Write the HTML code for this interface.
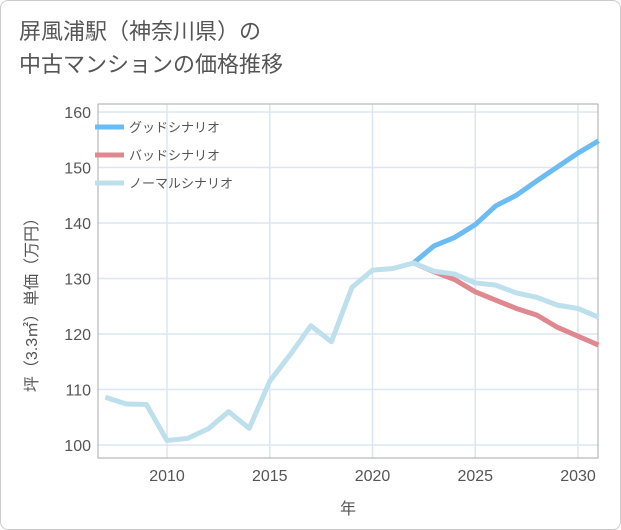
<!DOCTYPE html>
<html><head><meta charset="utf-8">
<style>
body{margin:0;background:#fff;}
#wrap{position:relative;width:619px;height:528px;border:1px solid #ccc;border-radius:8px;background:#fff;overflow:hidden;font-family:"Liberation Sans","Noto Sans CJK JP",sans-serif;}
#title{position:absolute;left:18px;top:14px;font-size:22px;line-height:33px;color:#555;}
svg{position:absolute;left:0;top:0;}
</style></head><body>
<div id="wrap">
<div id="title">屏風浦駅（神奈川県）の<br>中古マンションの価格推移</div>
<svg id="chart" width="621" height="530"></svg>
</div>
<script>
const years=[2007,2008,2009,2010,2011,2012,2013,2014,2015,2016,2017,2018,2019,2020,2021,2022,2023,2024,2025,2026,2027,2028,2029,2030,2031];
const normal=[108.6,107.4,107.3,100.8,101.2,102.9,106,103,111.5,116.3,121.5,118.6,128.4,131.5,131.8,132.8,131.3,130.8,129.2,128.8,127.4,126.6,125.2,124.6,123];
const futureYears=[2022,2023,2024,2025,2026,2027,2028,2029,2030,2031];
const good=[132.8,135.9,137.4,139.7,143.1,145,147.6,150.1,152.6,154.8];
const bad=[132.8,131.2,129.8,127.6,126.1,124.6,123.4,121.2,119.6,118];
const xTicks=[2010,2015,2020,2025,2030];
const yTicks=[100,110,120,130,140,150,160];
const L=97,R=597,T=103,B=457;
const x=v=>166+(v-2010)*20.55;
const y=v=>444-(v-100)*5.55;
const svg=document.getElementById('chart');
const NS='http://www.w3.org/2000/svg';
function mk(tag,attrs){const e=document.createElementNS(NS,tag);for(const k in attrs)e.setAttribute(k,attrs[k]);svg.appendChild(e);return e;}
xTicks.forEach(t=>{const l=mk('line',{x1:x(t),x2:x(t),y1:T,y2:B,stroke:'#dbe6f0','stroke-width':1.5});


const tx=mk('text',{x:x(t),y:B+23,'text-anchor':'middle','font-size':16,fill:'#555'});tx.textContent=t;

});
yTicks.forEach(t=>{const l=mk('line',{x1:L,x2:R,y1:y(t),y2:y(t),stroke:'#dbe6f0','stroke-width':1.5});


const tx=mk('text',{x:L-7,y:y(t)+6,'text-anchor':'end','font-size':16,fill:'#555'});tx.textContent=t;

});
const fr=mk('rect',{x:L,y:T,width:R-L,height:B-T,fill:'none',stroke:'#aaa','stroke-width':1});


function line(xs,vs,color,name){const p=mk('polyline',{points:xs.map((v,i)=>x(v)+','+y(vs[i])).join(' '),fill:'none',stroke:color,'stroke-width':5,'stroke-linejoin':'round'});

}
line(futureYears,good,'#6bbcf3','good-scenario-line');
line(futureYears,bad,'#e08890','bad-scenario-line');
line(years,normal,'#bde0ec','normal-scenario-line');
const leg=[['グッドシナリオ','#6bbcf3'],['バッドシナリオ','#e08890'],['ノーマルシナリオ','#bde0ec']];
leg.forEach((d,i)=>{const yy=126+i*28;
const l=mk('line',{x1:94,x2:123,y1:yy,y2:yy,stroke:d[1],'stroke-width':5});


const t=mk('text',{x:128,y:yy+5,'font-size':13,fill:'#555'});t.textContent=d[0];

});
const xt=mk('text',{x:347,y:513,'text-anchor':'middle','font-size':16,fill:'#555'});xt.textContent='年';


const yt=mk('text',{x:0,y:0,'text-anchor':'middle','font-size':16,fill:'#555',transform:'translate(36,300) rotate(-90)'});yt.textContent='坪（3.3㎡）単価（万円）';


</script>
</body></html>
